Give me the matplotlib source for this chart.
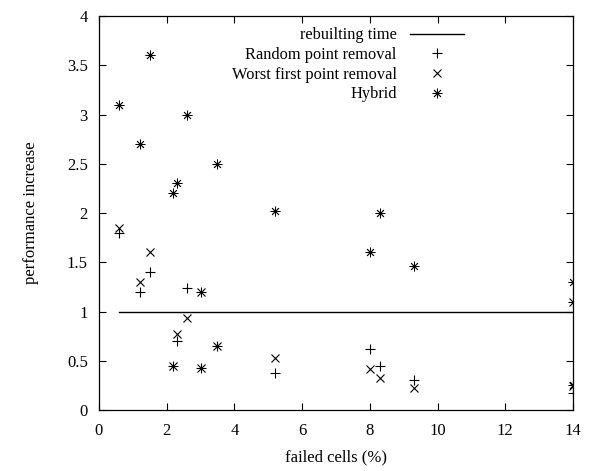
import matplotlib.pyplot as plt

plt.rcParams['font.family'] = 'Liberation Serif'
plt.rcParams['font.size'] = 12

# data
random_x = [0.6, 1.2, 1.5, 2.2, 2.3, 2.6, 3.0, 3.0, 3.5, 5.2, 8.0, 8.3, 9.3, 14, 14]
random_y = [1.8, 1.2, 1.4, 0.45, 0.7, 1.24, 1.2, 0.43, 0.65, 0.38, 0.62, 0.45, 0.3, 0.17, 1.1]

worst_x = [0.6, 1.2, 1.5, 2.2, 2.3, 2.6, 3.0, 3.0, 3.5, 5.2, 8.0, 8.3, 9.3, 14, 14]
worst_y = [1.85, 1.3, 1.6, 0.45, 0.77, 0.93, 1.2, 0.43, 0.65, 0.53, 0.42, 0.33, 0.22, 0.24, 1.1]

hybrid_x = [0.6, 1.2, 1.5, 2.2, 2.3, 2.6, 3.5, 5.2, 8.0, 8.3, 9.3, 14, 14]
hybrid_y = [3.1, 2.7, 3.6, 2.2, 2.3, 3.0, 2.5, 2.02, 1.6, 2.0, 1.46, 1.3, 0.25]

rebuild_x = [0.6, 14]
rebuild_y = [1, 1]

fig = plt.figure(figsize=(5.91, 4.71), dpi=100)
ax = fig.add_axes([0.1675, 0.1295, 0.802, 0.8365])

ax.plot(rebuild_x, rebuild_y, color='black', linewidth=1, label='rebuilting time')
ax.plot(random_x, random_y, linestyle='none', marker='+', markersize=7,
        markeredgewidth=0.8, color='black', label='Random point removal')
ax.plot(worst_x, worst_y, linestyle='none', marker='x', markersize=6,
        markeredgewidth=0.8, color='black', label='Worst first point removal')
ax.plot(hybrid_x, hybrid_y, linestyle='none', marker=(8, 2, 0), markersize=7,
        markeredgewidth=0.6, color='black', label='Hybrid')

ax.set_xlim(0, 14)
ax.set_ylim(0, 4)
ax.set_xticks(range(0, 15, 2))
ax.set_yticks([0, 0.5, 1, 1.5, 2, 2.5, 3, 3.5, 4])
ax.set_yticklabels(['0', '0.5', '1', '1.5', '2', '2.5', '3', '3.5', '4'])
ax.tick_params(direction='in', top=True, right=True, length=5, width=0.8)
ax.tick_params(axis='x', pad=9)
ax.tick_params(axis='y', pad=8)
for s in ax.spines.values():
    s.set_linewidth(0.9)

ax.set_xlabel('failed cells (%)', labelpad=8)
ax.set_ylabel('performance increase', labelpad=20)

ax.legend(loc='upper left', bbox_to_anchor=(0.256, 1.0), frameon=False,
          markerfirst=False, handlelength=3.3, labelspacing=0.22,
          fontsize=11.8, borderaxespad=0.3)
leg = ax.get_legend()
for t in leg.get_texts():
    t.set_ha('right')

fig.savefig('out.png', dpi=100)
